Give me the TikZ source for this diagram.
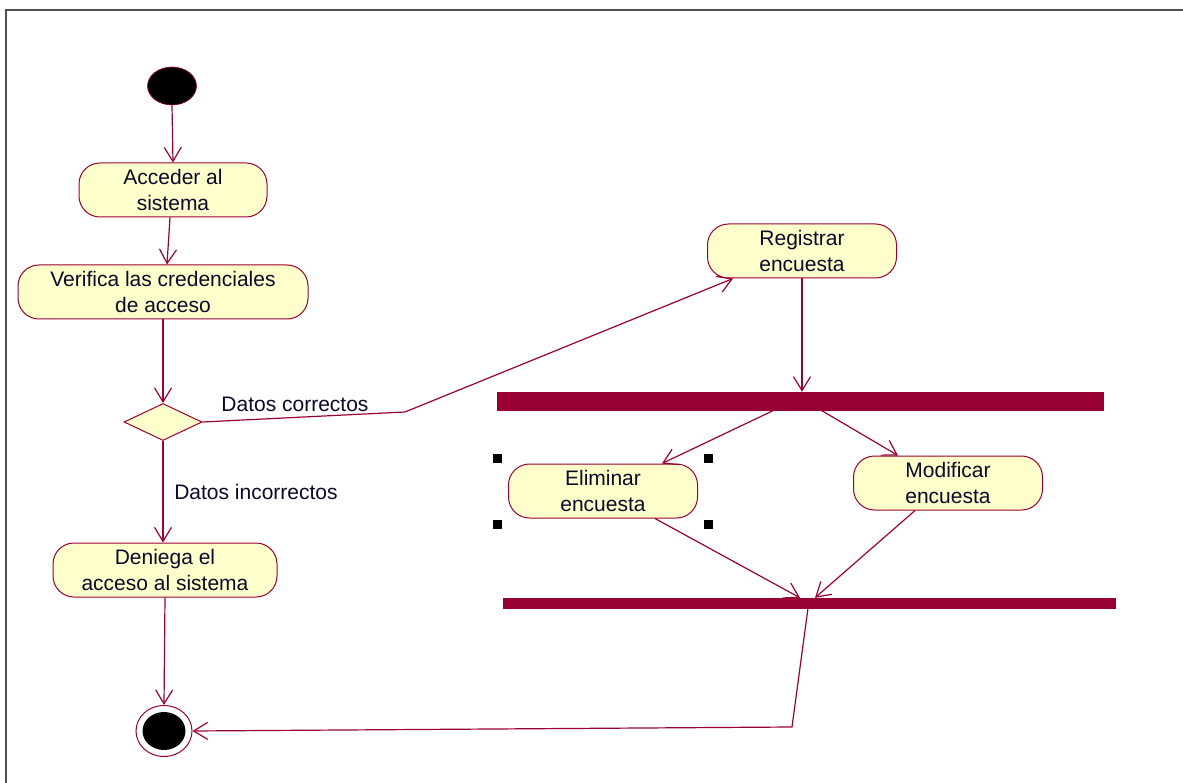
\documentclass[tikz,border=0pt]{standalone}
\usepackage{fontspec}
\setmainfont{Liberation Sans}
\usetikzlibrary{arrows.meta,shapes.geometric,calc}
\definecolor{rose}{RGB}{153,0,51}
\definecolor{actfill}{RGB}{255,255,204}
\definecolor{ink}{RGB}{10,10,40}
\definecolor{framegray}{RGB}{80,80,80}
\begin{document}
\begin{tikzpicture}[x=1pt,y=-1pt,
  every node/.style={font=\fontsize{21}{26}\selectfont, text=ink},
  activity/.style={draw=rose, line width=1pt, fill=actfill, rounded corners=21pt,
                   align=center, inner sep=0pt, minimum height=54pt},
  flow/.style={draw=rose, line width=1.2pt, -{Straight Barb[length=14pt,width=17pt]}},
  bar/.style={fill=rose, draw=rose, inner sep=0pt},
  handle/.style={fill=black, inner sep=0pt, minimum size=9pt},
  guard/.style={inner sep=0pt}
]
\useasboundingbox (0,0) rectangle (1183,783);

% window frame
\draw[framegray, line width=1.6pt] (6,783) -- (6,10) -- (1183,10);

% left column: login flow
\node[ellipse, fill=black, draw=rose, line width=0.6pt, minimum width=49pt, minimum height=38pt, inner sep=0pt] (start) at (172,86) {};
\node[activity, minimum width=188pt] (acceder) at (173,190) {Acceder al\\sistema};
\node[activity, minimum width=290pt] (verifica) at (163,292) {Verifica las credenciales\\de acceso};
\node[diamond, draw=rose, fill=actfill, line width=1pt, minimum width=78pt, minimum height=37pt, inner sep=0pt] (dec) at (163,422) {};
\node[activity, minimum width=224pt] (deniega) at (165,570) {Deniega el\\acceso al sistema};
\node[ellipse, draw=rose, line width=1pt, minimum width=56pt, minimum height=51pt, inner sep=0pt] (fin) at (164,731) {};
\node[ellipse, fill=black, minimum width=43pt, minimum height=38pt, inner sep=0pt] (finin) at (164,731) {};

% guard labels
\node[guard] (ok) at (295,404) {Datos correctos};
\node[guard] (ko) at (256,492) {Datos incorrectos};

% right side: survey handling
\node[activity, minimum width=189pt] (registrar) at (802,251) {Registrar\\encuesta};
\node[bar, minimum width=606pt, minimum height=18pt] (fork) at (800,401) {};
\node[activity, minimum width=189pt] (eliminar) at (603,491) {Eliminar\\encuesta};
\node[activity, minimum width=189pt] (modificar) at (948,483) {Modificar\\encuesta};
\node[bar, minimum width=612pt, minimum height=10pt] (join) at (809,603) {};

% selection handles around "Eliminar encuesta"
\node[handle] (h1) at (497,458) {};
\node[handle] (h2) at (708,458) {};
\node[handle] (h3) at (497,524) {};
\node[handle] (h4) at (708,524) {};

% bend points
\coordinate (bend1) at (405,412);
\coordinate (bend2) at (792,727);

% transitions
\draw[flow] (start.south) -- (acceder.north);
\draw[flow] ([xshift=-3pt]acceder.south) -- ([xshift=4pt]verifica.north);
\draw[flow] (verifica.south) -- (dec.north);
\draw[flow] (dec.south) -- ([xshift=-2pt]deniega.north);
\draw[flow] (deniega.south) -- (fin.north);
\draw[flow] (dec.east) -- (bend1) -- ([xshift=-69pt]registrar.south);
\draw[flow] (registrar.south) -- (registrar.south |- fork.north);
\draw[flow] ([xshift=-26pt]fork.south) -- ([xshift=59pt]eliminar.north);
\draw[flow] ([xshift=21pt]fork.south) -- ([xshift=-50pt]modificar.north);
\draw[flow] ([xshift=52pt]eliminar.south) -- ([xshift=-9pt]join.north);
\draw[flow] ([xshift=-33pt]modificar.south) -- ([xshift=6pt]join.north);
\draw[flow] ([xshift=-1pt]join.south) -- (bend2) -- (fin.east);
\end{tikzpicture}
\end{document}
